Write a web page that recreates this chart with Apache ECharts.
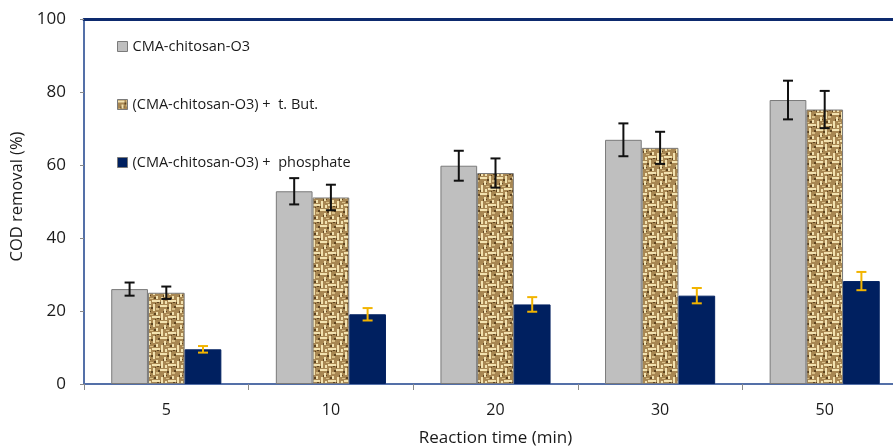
<!DOCTYPE html>
<html><head><meta charset="utf-8">
<script src="https://cdn.jsdelivr.net/npm/echarts@6/dist/echarts.min.js"></script>
<style>html,body{margin:0;padding:0;background:#fff}#c{width:893px;height:448px}</style>
</head><body><div id="c"></div>
<script>
const categories = ['5', '10', '20', '30', '50'];
const seriesNames = ['CMA-chitosan-O3', '(CMA-chitosan-O3) +  t. But.', '(CMA-chitosan-O3) +  phosphate'];
const valsPlain = [26.0, 52.8, 59.8, 66.9, 77.8];
const errPlain = [1.8, 3.6, 4.1, 4.5, 5.3];
const valsTBut = [25.0, 51.1, 57.8, 64.7, 75.2];
const errTBut = [1.7, 3.5, 4.0, 4.4, 5.1];
const valsPhos = [9.5, 19.1, 21.8, 24.2, 28.2];
const errPhos = [0.9, 1.7, 2.0, 2.1, 2.5];
const yTicks = [0, 20, 40, 60, 80, 100];

// basket-weave texture
function makePattern() {
  const c = document.createElement('canvas');
  c.width = 16; c.height = 16;
  const g = c.getContext('2d');
  g.fillStyle = '#a88752'; g.fillRect(0, 0, 16, 16);
  g.fillStyle = '#f2e2b0';
  g.fillRect(0, 1, 7, 2); g.fillRect(9, 0, 2, 7); g.fillRect(1, 9, 2, 7);
  g.fillRect(8, 12, 8, 2); g.fillRect(4, 5, 2, 4); g.fillRect(12, 8, 2, 3);
  g.fillRect(5, 13, 2, 3);
  g.fillStyle = '#d9bf86';
  g.fillRect(12, 4, 3, 2); g.fillRect(6, 10, 3, 1);
  g.fillStyle = '#5e4420';
  g.fillRect(7, 3, 2, 2); g.fillRect(14, 2, 2, 2); g.fillRect(3, 7, 1, 2);
  g.fillRect(10, 9, 2, 2); g.fillRect(0, 14, 1, 2); g.fillRect(13, 14, 2, 1);
  g.fillRect(6, 7, 1, 1); g.fillRect(11, 15, 1, 1);
  return c;
}
const texture = makePattern();

const values = [valsPlain, valsTBut, valsPhos];
const errors = [errPlain, errTBut, errPhos];
const colors = ['#bfbfbf', { image: texture, repeat: 'repeat' }, '#002060'];
const errColors = ['#111111', '#111111', '#f2b400'];
const barFrac = 0.223;

const series = [];
values.forEach((v, i) => {
  series.push({
    name: seriesNames[i], type: 'bar', data: v,
    barWidth: (barFrac * 100) + '%', barGap: '0%',
    itemStyle: { color: colors[i], borderColor: i === 2 ? '#002060' : '#7a7a7a', borderWidth: 1 },
    z: 2
  });
});
values.forEach((v, i) => {
  series.push({
    type: 'custom', name: seriesNames[i] + '_err',
    data: v.map((val, k) => [k, val - errors[i][k], val + errors[i][k]]),
    encode: { x: 0, y: [1, 2] },
    z: 5, silent: true,
    renderItem: function (params, api) {
      const k = api.value(0);
      const lo = api.coord([k, api.value(1)]);
      const hi = api.coord([k, api.value(2)]);
      const band = api.size([1, 0])[0];
      const x = lo[0] + (i - 1) * band * barFrac;
      const cap = 5;
      const st = { stroke: errColors[i], lineWidth: 2 };
      return {
        type: 'group', children: [
          { type: 'line', shape: { x1: x, y1: hi[1], x2: x, y2: lo[1] }, style: st },
          { type: 'line', shape: { x1: x - cap, y1: hi[1], x2: x + cap, y2: hi[1] }, style: st },
          { type: 'line', shape: { x1: x - cap, y1: lo[1], x2: x + cap, y2: lo[1] }, style: st }
        ]
      };
    }
  });
});

const font = '"Open Sans", "Noto Sans", sans-serif';
const chart = echarts.init(document.getElementById('c'), null, { renderer: 'canvas' });
chart.setOption({
  animation: false,
  textStyle: { fontFamily: font },
  grid: { left: 84, top: 19, height: 365, width: 823, containLabel: false, outerBoundsMode: 'none' },
  legend: {
    orient: 'vertical', left: 112, top: 34, itemGap: 43,
    itemWidth: 10, itemHeight: 10, icon: 'rect',
    data: seriesNames,
    textStyle: { fontSize: 14.5, color: '#1a1a1a', fontFamily: font, lineHeight: 14 },
    itemStyle: { borderColor: '#7a7a7a', borderWidth: 1 }
  },
  xAxis: [{
    type: 'category', data: categories,
    name: 'Reaction time (min)', nameLocation: 'middle', nameGap: 46,
    nameTextStyle: { fontSize: 17, color: '#1a1a1a' },
    axisLine: { lineStyle: { color: '#5470a8', width: 2 } },
    axisTick: { show: true, length: 6, lineStyle: { color: '#8a8a8a' }, alignWithLabel: false },
    axisLabel: { fontSize: 16, color: '#1a1a1a', margin: 18 }
  }, {
    type: 'category', data: categories, position: 'top',
    axisLine: { lineStyle: { color: '#0d2a6e', width: 3 } },
    axisTick: { show: false }, axisLabel: { show: false }
  }],
  yAxis: {
    type: 'value', min: yTicks[0], max: yTicks[yTicks.length - 1], interval: 20,
    name: 'COD removal (%)', nameLocation: 'middle', nameGap: 56,
    nameTextStyle: { fontSize: 16.5, color: '#1a1a1a', padding: [0, 0, 0, 10] },
    axisLine: { show: true, lineStyle: { color: '#5470a8', width: 2 } },
    axisTick: { show: true, length: 4, lineStyle: { color: '#8a8a8a' } },
    axisLabel: { fontSize: 17, color: '#1a1a1a', margin: 18 },
    splitLine: { show: false }
  },
  series: series
});
</script></body></html>
